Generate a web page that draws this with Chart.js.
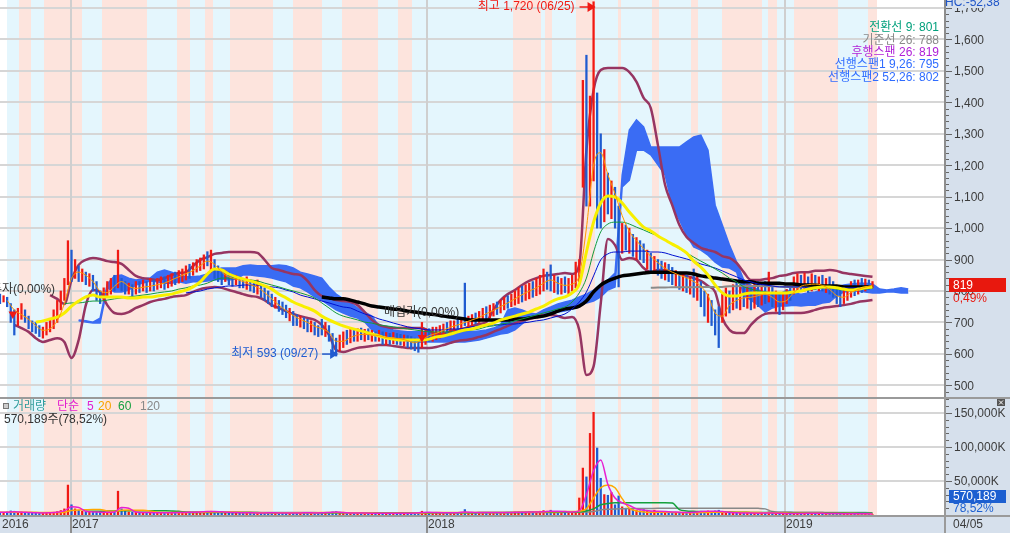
<!DOCTYPE html>
<html>
<head>
<meta charset="utf-8">
<script src="https://cdn.jsdelivr.net/npm/chart.js@4.4.0/dist/chart.umd.min.js"></script>
<style>
html, body { margin: 0; padding: 0; background: #fff; overflow: hidden; }
canvas { display: block; }
</style>
</head>
<body>
<canvas id="price" width="1010" height="397"></canvas>
<canvas id="vol" width="1010" height="136"></canvas>
<script>
// x values are trading-day indexes counted from the first bar on screen
var yearDays = [0, 49, 298, 548]
var yearLabels = ['2016', '2017', '2018', '2019']
var lastDateLabel = '04/05'

var priceTicks = [500, 600, 700, 800, 900, 1000, 1100, 1200, 1300, 1400, 1500, 1600, 1700]
var volTicks = [50000, 100000, 150000]

// up / down trend zones behind the chart (start day, end day, 1 = up)
var bandStart = [5, 13, 22, 31, 57, 71, 103, 124, 133, 143, 149, 161, 191, 205, 225, 239, 264, 278, 288, 359, 378, 381, 386, 403, 416, 432, 434, 456, 461, 483, 488, 505, 533, 537, 543, 555, 586, 607]
var bandEnd   = [13, 22, 31, 57, 71, 103, 124, 133, 143, 149, 161, 191, 205, 225, 239, 264, 278, 288, 359, 378, 381, 386, 403, 416, 432, 434, 456, 461, 483, 488, 505, 533, 537, 543, 555, 586, 607, 613]
var bandUp    = [0, 1, 0, 1, 0, 1, 0, 1, 0, 1, 0, 1, 0, 1, 0, 1, 0, 1, 0, 1, 0, 1, 0, 1, 0, 1, 0, 1, 0, 1, 0, 1, 0, 1, 0, 1, 0, 1]

// price bars, one every 2.5 trading days
var candleStep = 2.5
var candleLow = [
  760,765,750,700,660,690,710,700,680,670, 665,655,650,660,670,680,700,740,770,820,
  830,840,830,830,820,815,800,770,760,770, 780,790,800,810,800,790,790,785,790,795,
  800,795,800,800,805,810,805,810,815,820, 825,830,835,840,850,860,865,870,880,860,
  840,830,820,830,820,815,820,810,810,805, 800,795,790,780,770,760,750,745,735,725,
  715,705,690,690,685,680,670,670,660,655, 660,655,640,610,593,610,620,630,635,640,
  640,645,640,645,640,640,640,630,628,630, 632,630,628,625,620,615,610,605,620,630,
  640,640,645,650,655,660,665,670,675,680, 690,685,690,695,700,705,710,715,720,725,
  730,740,745,750,755,760,765,770,775,780, 785,790,800,805,800,795,790,790,795,790,
  800,810,830,1130,1070,1070,1150,1000,1000,1020, 1045,1030,1000,813,920,930,920,910,900,900,
  890,870,860,860,850,840,835,830,820,815, 805,800,795,790,780,770,750,720,700,690,
  660,620,700,720,730,740,745,740,750,745, 740,745,750,755,760,765,750,735,725,740,
  760,770,790,795,800,800,795,800,805,800, 800,795,790,780,760,750,760,770,780,785,
  790,795,800,805,810]
var candleHigh = [
  790,785,780,760,740,745,760,740,720,705, 700,690,685,700,710,740,770,800,840,960,
  930,900,880,870,860,855,850,830,800,810, 830,840,850,930,840,830,825,820,830,830,
  835,830,840,835,840,845,845,850,855,860, 865,870,880,885,890,900,905,915,925,930,
  900,880,870,865,860,850,850,845,840,845, 835,830,835,820,810,800,790,780,770,765,
  755,745,735,725,720,715,710,705,700,690, 710,700,690,665,650,660,670,675,680,680,
  680,682,678,680,675,670,675,670,668,665, 668,665,662,660,658,655,650,645,700,680,
  680,685,685,690,695,700,705,705,710,715, 825,720,725,730,735,745,750,755,760,765,
  770,780,785,790,800,810,815,820,825,830, 840,850,870,860,883,850,845,840,845,840,
  850,892,900,1470,1550,1420,1720,1430,1300,1250, 1175,1150,1130,1070,1015,1010,1000,980,970,960,
  950,930,920,910,900,895,890,885,875,865, 860,855,850,845,870,850,830,800,790,770,
  740,750,790,810,800,820,830,815,825,820, 810,825,830,820,830,860,815,800,790,795,
  805,815,845,855,850,857,845,855,850,845, 850,840,845,830,815,805,810,815,830,835,
  835,840,838,835,830]
var candleUp = [
  0,1,0,0,0,1,1,0,0,0, 0,0,1,1,1,1,1,1,1,1,
  0,1,0,1,0,1,0,0,0,1, 1,1,0,1,0,0,1,0,1,0,
  1,0,1,0,1,1,0,1,1,0, 1,1,1,0,1,1,1,1,0,1,
  0,0,0,1,0,0,1,0,0,1, 0,0,1,0,0,0,0,1,0,0,
  0,1,0,0,1,0,0,1,0,0, 0,1,0,0,0,1,1,0,1,0,
  1,0,1,0,1,0,1,0,1,0, 1,0,0,1,0,0,0,0,1,1,
  0,1,1,1,1,0,1,1,0,1, 0,1,1,0,1,1,0,1,1,0,
  1,1,0,1,1,1,0,1,1,0, 1,1,1,0,0,1,0,1,0,1,
  1,1,1,1,0,1,1,0,0,1, 0,1,0,0,1,0,1,0,1,0,
  0,1,0,1,0,0,1,0,0,1, 0,1,0,1,0,1,0,0,1,0,
  0,0,1,1,0,1,0,1,0,1, 0,1,0,1,0,1,0,1,0,1,
  1,0,1,1,0,1,0,1,0,1, 0,1,0,0,0,0,1,1,1,0,
  1,0,1,0,1]
// volume in thousands of shares, same bars
var volume = [
  3500,3000,4500,6000,5500,4000,4500,3500,3000,2500, 2500,3000,2500,2800,3500,4000,5000,6500,9000,44000,
  15000,9000,7000,5500,5000,4500,4000,4500,4000,3800, 4000,3800,4500,35000,9000,6000,4500,4000,3800,3500,
  3500,3300,3500,3200,3300,3500,3200,3400,3500,3300, 3500,3800,4000,3800,4200,4500,4000,4500,5000,5500,
  5000,4500,4000,3800,3500,3400,3300,3200,3100,3000, 3100,3000,3200,3100,3300,3200,3100,3000,3200,3100,
  3200,3000,3300,3100,3000,3200,3100,3000,3300,3500, 3400,3200,3800,4500,5000,4000,3500,3200,3100,3000,
  2800,2600,2800,2600,2800,2600,2500,2800,2600,2500, 2600,2500,2600,2500,2800,3000,3200,3300,5500,4000,
  3500,3200,3300,3400,3500,3300,3400,3500,3300,3400, 8000,4000,3500,3300,3400,3500,3600,3500,3800,3700,
  3800,4000,3900,4100,4200,4500,4300,4400,4600,4800, 5000,5500,6500,5500,7000,5000,4500,4200,4000,4400,
  2800,5000,25000,69000,56000,120000,151000,98500,54000,30000, 29000,33000,15000,28000,12000,10000,9000,8000,7000,6000,
  8000,6000,5000,7000,5000,4500,4000,4500,4000,3500, 3500,3000,3200,3000,5000,4000,3500,5500,6000,4500,
  6000,7000,5000,4000,3500,3000,3200,2800,3000,2700, 2500,2600,2400,2800,2500,4500,2500,2300,2200,2000,
  2000,2200,2500,2800,2400,2600,2300,2500,2200,2000, 2100,1900,2000,2200,2100,1800,1900,2000,1800,1700,
  1600,1700,1500,1600,570]

// weekly indicator lines (one value every 5 trading days, from a start week)
var lineStep = 5
var ma5Start = 1
var ma5 = [770,740,725,710,690,675,680,705,760,
  840,860,850,830,800,795,815,830,815,808, 812,815,820,825,835,845,855,865,880,895,
  885,860,845,838,830,820,812,795,775,755, 738,722,710,700,688,680,668,640,640,652,
  660,662,660,658,652,650,648,642,635,645, 658,665,675,685,692,700,708,716,728,738,
  750,762,775,788,800,810,825,835,825,818, 822,850,1000,1200,1240,1170,1110,1040,990,960,
  935,910,890,872,860,850,842,830,815,785, 730,720,755,770,778,780,785,790,780,765,
  770,795,815,820,822,818,805,785,780,795, 805,812,818]
var ma20Start = 5
var ma20 = [701,705,711,717,730,
  752,768,781,787,781,781,781,781,778,778, 781,781,784,787,790,797,803,813,829,854,
  870,867,854,845,838,832,825,816,806,790, 778,765,755,746,736,720,708,698,689,682,
  676,670,663,657,650,647,644,644,644,644, 647,654,657,663,670,676,679,686,692,698,
  708,714,720,727,733,743,752,765,775,781, 794,822,924,1019,1080,1102,1099,1080,1051,1026,
  1003,991,975,962,949,937,921,895,876,851, 819,794,784,784,790,794,794,794,794,794,
  794,797,800,806,810,813,813,810,806,803, 806,810,813]
var ma60Start = 9
var ma60 = [759,
  762,762,765,768,768,771,775,778,781,784, 787,790,794,797,800,806,810,816,819,825,
  835,841,841,841,838,835,832,825,819,813, 806,800,794,787,778,762,746,730,720,714,
  708,701,698,692,689,686,682,679,676,673, 670,670,670,670,670,673,676,679,686,689,
  695,698,705,711,717,724,730,736,743,749, 765,794,841,924,988,1013,1019,1019,1013,1003,
  994,984,975,962,949,934,921,908,895,883, 870,857,841,829,813,806,800,797,794,794,
  797,797,800,803,806,810,810,806,803,803, 806,806,810]
var ma120Start = 26
var ma120 = [794,797,800,806,
  810,813,816,816,819,819,819,816,813,810, 803,797,787,781,775,768,762,755,749,746,
  736,727,720,711,705,698,692,686,682,679, 676,676,676,679,679,682,686,689,689,692,
  692,695,695,698,701,705,708,714,720,727, 743,765,797,848,899,918,924,924,927,927,
  927,924,924,921,914,908,902,895,886,880, 873,864,854,845,835,829,822,819,816,813,
  813,813,813,810,810,810,810,810,810,810, 810,810,810]
var ma240Start = 45
var ma240 = [781,778,775,775,771,
  765,759,752,749,746,743,740,736,733,730, 727,724,720,717,714,711,708,708,708,708,
  708,708,711,711,714,717,720,727,736,743, 746,752,768,797,819,832,841,848,851,854,
  857,860,860,860,860,857,857,854,848,845, 841,838,835,832,829,829,825,825,825,825,
  822,822,819,819,819,816,816,816,813,813, 813,813,813]
var kijunStart = 91
var kijun = [810,811,811,812,812,812,812,813,813,813,813,815,815,816,816,816,815,815,814,813,813,812,812,812,811,811,810,810,810,810,810,810]
var bbUpperStart = 7
var bbUpper = [787,775,759,
  835,883,899,905,902,895,892,886,867,848, 841,838,835,841,851,857,860,880,899,908,
  918,921,924,924,924,924,921,899,873,867, 860,854,851,832,803,784,778,771,768,765,
  755,733,708,692,686,682,682,682,682,682, 673,663,663,673,676,682,689,695,701,740,
  771,790,803,819,832,841,848,851,854,857, 854,883,1248,1439,1503,1509,1509,1509,1496,1465,
  1414,1382,1264,1137,1073,1010,972,953,937,930, 924,911,905,889,860,835,835,838,841,848,
  851,857,860,860,864,864,867,864,857,854, 851,848,845]
var bbLowerStart = 2
var bbLower = [692,682,670,650,638,644,650,638,
  587,644,755,803,797,755,730,727,733,746, 755,765,771,775,781,784,787,797,806,810,
  813,810,803,797,790,784,781,771,755,746, 736,727,720,714,708,692,660,612,606,612,
  619,622,625,628,628,625,622,619,619,619, 619,622,628,635,641,644,647,654,660,670,
  679,689,698,705,711,717,724,724,720,714, 717,676,533,560,760,965,946,899,905,899,
  873,860,867,867,860,854,848,841,832,816, 797,714,676,666,666,692,714,727,730,730,
  730,730,730,733,740,746,749,752,755,759, 765,768,771]
// ichimoku cloud, already shifted 26 days ahead
var cloudStart = 11
var cloudTop = [708,705,701,714,822,848,851,841,835,
  838,841,860,867,860,851,845,845,848,854, 867,873,873,873,880,883,880,880,880,883,
  880,873,860,854,848,841,813,790,775,762, 746,733,720,689,682,676,673,670,670,670,
  670,666,666,666,666,670,670,673,676,682, 692,740,746,740,730,727,740,749,759,765,
  771,781,790,803,819,835,857,1169,1312,1344, 1322,1258,1258,1258,1258,1258,1274,1290,1296,1248,
  1073,1010,946,892,835,819,803,797,794,790, 803,794,790,794,797,803,806,813,819,822,
  825,825,822,806,803,806,810,806]
var cloudBottom = [705,701,698,698,810,797,797,803,819,
  825,832,829,825,825,829,825,829,829,832, 835,838,835,838,851,851,848,845,841,835,
  829,816,810,797,781,771,755,740,730,720, 714,701,676,663,657,650,644,641,638,638,
  638,638,638,638,638,638,641,644,650,657, 663,666,676,695,714,717,720,727,733,736,
  743,752,762,768,781,803,813,1131,1153,1248, 1248,1233,1201,1169,1073,1026,978,940,930,914,
  892,876,873,860,787,771,755,733,746,752, 752,755,752,755,755,762,765,784,797,800,
  800,797,794,794,797,797,794,794]

var volMa5 = [4000,4200,4600,4200,3700,3200,3100,3300,4200,6000,
  12000,11000,5500,4500,4200,4000,4300,11000,10000,4500, 3800,3500,3400,3300,3400,3500,3800,4000,4400,5000,
  5200,4600,4000,3600,3300,3200,3100,3100,3200,3100, 3100,3100,3100,3200,3100,3200,3800,4400,3500,3100,
  3000,2800,2700,2600,2600,2500,2600,2600,2900,3800, 4000,3500,3300,3400,3400,4500,4000,3500,3500,3600,
  3700,3800,3900,4000,4300,4500,4800,5500,5500,5000, 4500,6000,30000,65000,81000,45000,25000,18000,14000,9000,
  7000,6000,5500,5000,4500,4000,3500,4000,5000,5500, 5500,5000,4000,3200,3000,2800,2700,3000,2800,2400,
  2200,2100,2300,2500,2500,2400,2200,2100,2000,1900, 1800,1700,1600]
var volMa20 = [4000,4000,4100,4100,4000,3900,3800,3700,3800,4200,
  6500,7500,7800,8000,8000,6000,5500,7000,7200,7000, 7000,6000,4000,3800,3700,3600,3700,3800,4000,4300,
  4500,4500,4400,4200,3800,3500,3300,3200,3200,3200, 3200,3200,3200,3300,3400,3500,3600,3600,3500,3400,
  3200,3000,2800,2700,2600,2600,2600,2700,2800,3100, 3400,3500,3500,3500,3600,3700,3800,3800,3800,3700,
  3700,3800,3900,4000,4100,4300,4500,4700,4900,5000, 5000,5500,9000,25000,40000,44000,40000,24000,10000,6000,
  4500,4000,4000,4000,3800,3600,3400,3300,3500,3800, 4000,4200,4200,4100,4000,3800,3600,3400,3200,3000,
  2800,2600,2500,2400,2400,2400,2300,2300,2200,2100, 2000,1900,1900]
var volMa60Start = 12
var volMa60 = [5500,5500,5500,5800,6000,6200,6300,6300,
  6300,6300,6300,6200,6000,5500,4000,3800,3700,3700, 3700,3700,3600,3600,3500,3500,3500,3400,3400,3400,
  3400,3300,3300,3300,3300,3300,3300,3300,3200,3200, 3200,3100,3000,3000,3000,2900,2900,2900,2900,3000,
  3100,3200,3300,3300,3300,3400,3400,3500,3500,3500, 3600,3600,3700,3800,3900,4000,4100,4200,4300,4400,
  4500,4800,6000,9000,15000,17000,18000,18000,18000,18000, 18000,18000,18000,18000,17500,8000,6000,5500,5000,4800,
  4500,4400,4300,4200,4000,3800,3700,3600,3500,3400, 3300,3200,3100,3000,3000,3000,2900,2800,2800,2700,
  2700,2600,2600]
var volMa120Start = 24
var volMa120 = [4500,4500,4400,4400,4300,4300,
  4200,4100,4000,4000,3900,3900,3800,3800,3700,3700, 3600,3600,3500,3500,3500,3400,3400,3400,3300,3300,
  3300,3300,3200,3200,3200,3200,3200,3200,3200,3200, 3200,3200,3200,3200,3300,3300,3300,3300,3400,3400,
  3400,3500,3500,3500,3600,3600,3700,3700,3800,3900, 4000,4100,4500,5000,7500,8500,9000,9200,9400,9500,
  9600,9700,9800,10000,10000,10000,10000,10000,10000,10000, 10000,10000,10000,10000,10000,10000,9800,9000,5000,4500,
  4300,4200,4100,4000,4000,3900,3800,3800,3700,3600, 3500,3500,3400]

// buy / sell signal marks
var signalDay = [9, 295]
var signalPrice = [727, 652]

var ichiNames = ['전환선 9', '기준선 26', '후행스팬 26', '선행스팬1 9,26', '선행스팬2 52,26']
var ichiValues = [801, 788, 819, 795, 802]
var ichiColors = ['#00a07c', '#8a8a8a', '#b01fd8', '#2f6cff', '#2f6cff']

var highDate = '06/25'
var lowDate = '09/27'
var lastClose = 819
var lastChange = 0.49
var lastVolume = 570189
var volRatio = 78.52
var hcValue = -52.38

var RED = '#f01a14'
var BLUE = '#1f5bd0'
var CLOUD = '#3a6cf4'
var MAROON = '#963562'
var AXIS_BG = '#d6e0ec'
var UP_BG = '#fde4dd'
var DOWN_BG = '#e4f6fd'
var GRID = '#d6d6d6'
var F = '"Liberation Sans", "Noto Sans CJK KR", sans-serif'

function series(start, step, values) {
	return values.map(function (v, i) { return {x: (start + i) * step, y: v} })
}
function comma(v) { return v.toFixed(2).replace('.', ',') }

function paintBack(chart, ticks) {
	var ctx = chart.ctx, a = chart.chartArea, xs = chart.scales.x, ys = chart.scales.y
	ctx.save()
	ctx.fillStyle = '#fff'
	ctx.fillRect(0, 0, chart.width, chart.height)
	for (var i = 0; i < bandStart.length; i++) {
		var x0 = Math.round(xs.getPixelForValue(bandStart[i]))
		var x1 = Math.round(xs.getPixelForValue(bandEnd[i]))
		ctx.fillStyle = bandUp[i] ? UP_BG : DOWN_BG
		ctx.fillRect(x0, a.top, x1 - x0, a.bottom - a.top)
	}
	ctx.fillStyle = GRID
	ticks.forEach(function (v) {
		var y = Math.round(ys.getPixelForValue(v))
		ctx.fillRect(a.left, y - 1, a.right - a.left, 2)
	})
	ctx.fillStyle = '#cfcfcf'
	yearDays.forEach(function (d, i) {
		if (!i) return
		ctx.fillRect(Math.round(xs.getPixelForValue(d)), a.top, 2, a.bottom - a.top)
	})
	ctx.restore()
}

function arrow(ctx, tipX, y, len, color) {
	ctx.strokeStyle = color
	ctx.fillStyle = color
	ctx.lineWidth = 1.5
	ctx.beginPath()
	ctx.moveTo(tipX - len, y)
	ctx.lineTo(tipX - 5, y)
	ctx.stroke()
	ctx.beginPath()
	ctx.moveTo(tipX, y)
	ctx.lineTo(tipX - 8, y - 5)
	ctx.lineTo(tipX - 8, y + 5)
	ctx.closePath()
	ctx.fill()
}

var priceDeco = {
	id: 'priceDeco',
	beforeDraw: function (chart) { paintBack(chart, priceTicks) },
	afterDraw: function (chart) {
		var ctx = chart.ctx, a = chart.chartArea, xs = chart.scales.x, ys = chart.scales.y
		ctx.save()
		// high / low marks
		var hi = Math.max.apply(null, candleHigh), lo = Math.min.apply(null, candleLow)
		var hx = xs.getPixelForValue(candleHigh.indexOf(hi) * candleStep)
		var lx = xs.getPixelForValue(candleLow.indexOf(lo) * candleStep)
		var hy = Math.max(7, ys.getPixelForValue(hi) + 5)
		var ly = ys.getPixelForValue(lo) - 2
		ctx.font = '12px ' + F
		ctx.textBaseline = 'middle'
		ctx.textAlign = 'right'
		ctx.fillStyle = RED
		ctx.fillText('최고 ' + hi.toLocaleString('en-US') + ' (' + highDate + ')', hx - 19, hy)
		arrow(ctx, hx + 2, hy, 16, RED)
		ctx.fillStyle = BLUE
		ctx.fillText('최저 ' + lo + ' (' + lowDate + ')', lx - 18, ly)
		arrow(ctx, lx + 2, ly, 16, BLUE)
		// position labels
		ctx.textAlign = 'left'
		ctx.fillStyle = '#333'
		ctx.fillText('투자(0,00%)', -9, 290)
		ctx.fillText('매입가(0,00%)', 384, 313)
		// ichimoku legend
		ctx.textAlign = 'right'
		ichiNames.forEach(function (n, i) {
			ctx.fillStyle = ichiColors[i]
			ctx.fillText(n + ': ' + ichiValues[i], a.right - 5, 28 + i * 12.3)
		})
		// right axis
		ctx.fillStyle = AXIS_BG
		ctx.fillRect(a.right, 0, chart.width - a.right, chart.height)
		ctx.fillStyle = '#8e8e8e'
		ctx.fillRect(a.right, 0, 2, chart.height)
		ctx.strokeStyle = '#666'
		ctx.lineWidth = 1
		for (var v = 480; v <= 1720; v += 20) {
			var y = Math.round(ys.getPixelForValue(v)) + 0.5
			ctx.beginPath()
			ctx.moveTo(a.right + 2, y)
			ctx.lineTo(a.right + (v % 100 ? 5 : 8), y)
			ctx.stroke()
		}
		ctx.textAlign = 'left'
		ctx.fillStyle = '#3c3c3c'
		priceTicks.forEach(function (p) {
			ctx.fillText(p.toLocaleString('en-US'), a.right + 10, ys.getPixelForValue(p) + 1)
		})
		ctx.fillStyle = AXIS_BG
		ctx.fillRect(a.right + 2, 0, chart.width - a.right, 8)
		ctx.fillStyle = '#1f55c8'
		ctx.textBaseline = 'bottom'
		ctx.fillText('HC:' + comma(hcValue), a.right + 1, 9)
		// last price
		var cy = Math.round(ys.getPixelForValue(lastClose))
		ctx.fillStyle = '#e8180e'
		ctx.fillRect(a.right + 5, cy - 7, 57, 14)
		ctx.textBaseline = 'middle'
		ctx.fillStyle = '#fff'
		ctx.fillText(String(lastClose), a.right + 9, cy + 1)
		ctx.fillStyle = '#e8180e'
		ctx.fillText(comma(lastChange) + '%', a.right + 9, cy + 14)
		ctx.restore()
	}
}

var volDeco = {
	id: 'volDeco',
	beforeDraw: function (chart) { paintBack(chart, volTicks) },
	afterDraw: function (chart) {
		var ctx = chart.ctx, a = chart.chartArea, xs = chart.scales.x, ys = chart.scales.y
		var W = chart.width, H = chart.height
		ctx.save()
		ctx.fillStyle = AXIS_BG
		ctx.fillRect(a.right, 0, W - a.right, H)
		ctx.fillRect(0, a.bottom, W, H - a.bottom)
		ctx.fillStyle = '#9a9a9a'
		ctx.fillRect(0, 0, W, 2)
		ctx.fillRect(0, a.bottom, W, 2)
		ctx.fillRect(a.right, 0, 2, H)
		ctx.strokeStyle = '#666'
		ctx.lineWidth = 1
		for (var v = 10000; v <= 170000; v += 10000) {
			var y = Math.round(ys.getPixelForValue(v)) + 0.5
			ctx.beginPath()
			ctx.moveTo(a.right + 2, y)
			ctx.lineTo(a.right + (v % 50000 ? 5 : 8), y)
			ctx.stroke()
		}
		ctx.font = '12px ' + F
		ctx.textBaseline = 'middle'
		ctx.textAlign = 'left'
		ctx.fillStyle = '#3c3c3c'
		volTicks.forEach(function (t) {
			ctx.fillText(t.toLocaleString('en-US') + 'K', a.right + 10, ys.getPixelForValue(t) + 1)
		})
		// time axis
		ctx.fillStyle = '#8e8e8e'
		yearDays.forEach(function (d, i) {
			var x = Math.round(xs.getPixelForValue(d))
			if (i) ctx.fillRect(x, a.bottom, 2, H - a.bottom)
		})
		ctx.fillStyle = '#3c3c3c'
		yearDays.forEach(function (d, i) {
			var x = Math.round(xs.getPixelForValue(d))
			ctx.fillText(yearLabels[i], x + 2, a.bottom + 10)
		})
		ctx.fillText(lastDateLabel, a.right + 9, a.bottom + 10)
		// last volume
		var by = Math.min(ys.getPixelForValue(lastVolume / 1000), a.bottom - 19)
		ctx.fillStyle = '#1c5fd0'
		ctx.fillRect(a.right + 5, by - 6, 57, 13)
		ctx.fillStyle = '#fff'
		ctx.fillText(lastVolume.toLocaleString('en-US'), a.right + 9, by + 1)
		ctx.fillStyle = '#1c5fd0'
		ctx.fillText(comma(volRatio) + '%', a.right + 9, by + 13)
		// header
		ctx.fillStyle = '#777'
		ctx.fillRect(3, 6, 6, 6)
		ctx.fillStyle = '#ccc'
		ctx.fillRect(4, 7, 4, 4)
		var head = [['거래량', '#2e9c9c', 13], ['단순', '#e21fcf', 57], ['5', '#e21fcf', 87], ['20', '#f5a300', 98], ['60', '#15a040', 118], ['120', '#888', 140]]
		head.forEach(function (h) {
			ctx.fillStyle = h[1]
			ctx.fillText(h[0], h[2], 10)
		})
		ctx.fillStyle = '#333'
		ctx.fillText(lastVolume.toLocaleString('en-US') + '주(' + comma(volRatio) + '%)', 4, 23)
		// close box
		ctx.fillStyle = '#555'
		ctx.fillRect(997, 2, 8, 7)
		ctx.strokeStyle = '#fff'
		ctx.beginPath()
		ctx.moveTo(999, 3.5); ctx.lineTo(1003, 7.5)
		ctx.moveTo(1003, 3.5); ctx.lineTo(999, 7.5)
		ctx.stroke()
		ctx.restore()
	}
}

function lineSet(data, color, width, order, extra) {
	var ds = {type: 'line', data: data, borderColor: color, borderWidth: width, pointRadius: 0,
		fill: false, cubicInterpolationMode: 'monotone', order: order}
	for (var k in extra) ds[k] = extra[k]
	return ds
}

var candleData = candleLow.map(function (l, j) { return {x: j * candleStep, y: [l, candleHigh[j]]} })
var candleColors = candleUp.map(function (u) { return u ? RED : BLUE })
var signalData = signalDay.map(function (d, i) { return {x: d, y: signalPrice[i]} })

new Chart(document.getElementById('price'), {
	type: 'bar',
	data: {
		datasets: [
			{type: 'scatter', data: signalData, pointStyle: 'triangle', rotation: 180, pointRadius: 5,
				backgroundColor: RED, borderColor: RED, borderWidth: 0, order: 0},
			lineSet(series(ma5Start, lineStep, ma5), '#ff9a00', 1, 1),
			lineSet(series(ma20Start, lineStep, ma20), '#f8ef00', 3, 2),
			lineSet(series(ma60Start, lineStep, ma60), '#139a3c', 1, 3),
			lineSet(series(ma120Start, lineStep, ma120), '#0010d0', 1, 4),
			lineSet(series(ma240Start, lineStep, ma240), '#000', 3.5, 5),
			lineSet(series(kijunStart, lineStep, kijun), '#8a8a8a', 2, 6),
			{type: 'bar', data: candleData, backgroundColor: candleColors, barThickness: 1.6,
				borderWidth: 0, grouped: false, order: 7},
			lineSet(series(bbUpperStart, lineStep, bbUpper), MAROON, 2.5, 8),
			lineSet(series(bbLowerStart, lineStep, bbLower), MAROON, 2.5, 8),
			lineSet(series(cloudStart, lineStep, cloudTop), CLOUD, 1.5, 9,
				{fill: '+1', backgroundColor: CLOUD, cubicInterpolationMode: 'default', tension: 0}),
			lineSet(series(cloudStart, lineStep, cloudBottom), CLOUD, 1.5, 9,
				{cubicInterpolationMode: 'default', tension: 0})
		]
	},
	options: {
		responsive: false,
		animation: false,
		devicePixelRatio: 1,
		layout: {autoPadding: false, padding: {left: 0, top: 0, bottom: 0, right: 66}},
		plugins: {legend: {display: false}, tooltip: {enabled: false}},
		scales: {
			x: {type: 'linear', min: 0, max: 660, offset: false, bounds: 'data', display: false},
			y: {type: 'linear', min: 462.8, max: 1725.6, bounds: 'data', display: false}
		}
	},
	plugins: [priceDeco]
})

var volData = volume.map(function (v, j) { return {x: j * candleStep, y: v} })

new Chart(document.getElementById('vol'), {
	type: 'bar',
	data: {
		datasets: [
			lineSet(series(0, lineStep, volMa5), '#e81fd0', 1.5, 1),
			lineSet(series(0, lineStep, volMa20), '#ffa800', 1.5, 2),
			lineSet(series(volMa60Start, lineStep, volMa60), '#13a03c', 1.5, 3),
			lineSet(series(volMa120Start, lineStep, volMa120), '#888', 1.5, 4),
			{type: 'bar', data: volData, backgroundColor: candleColors, barThickness: 1.6,
				borderWidth: 0, grouped: false, order: 5}
		]
	},
	options: {
		responsive: false,
		animation: false,
		devicePixelRatio: 1,
		layout: {autoPadding: false, padding: {left: 0, top: 0, right: 66, bottom: 18}},
		plugins: {legend: {display: false}, tooltip: {enabled: false}},
		scales: {
			x: {type: 'linear', min: 0, max: 660, offset: false, bounds: 'data', display: false},
			y: {type: 'linear', min: 0, max: 173500, bounds: 'data', display: false}
		}
	},
	plugins: [volDeco]
})
</script>
</body>
</html>
